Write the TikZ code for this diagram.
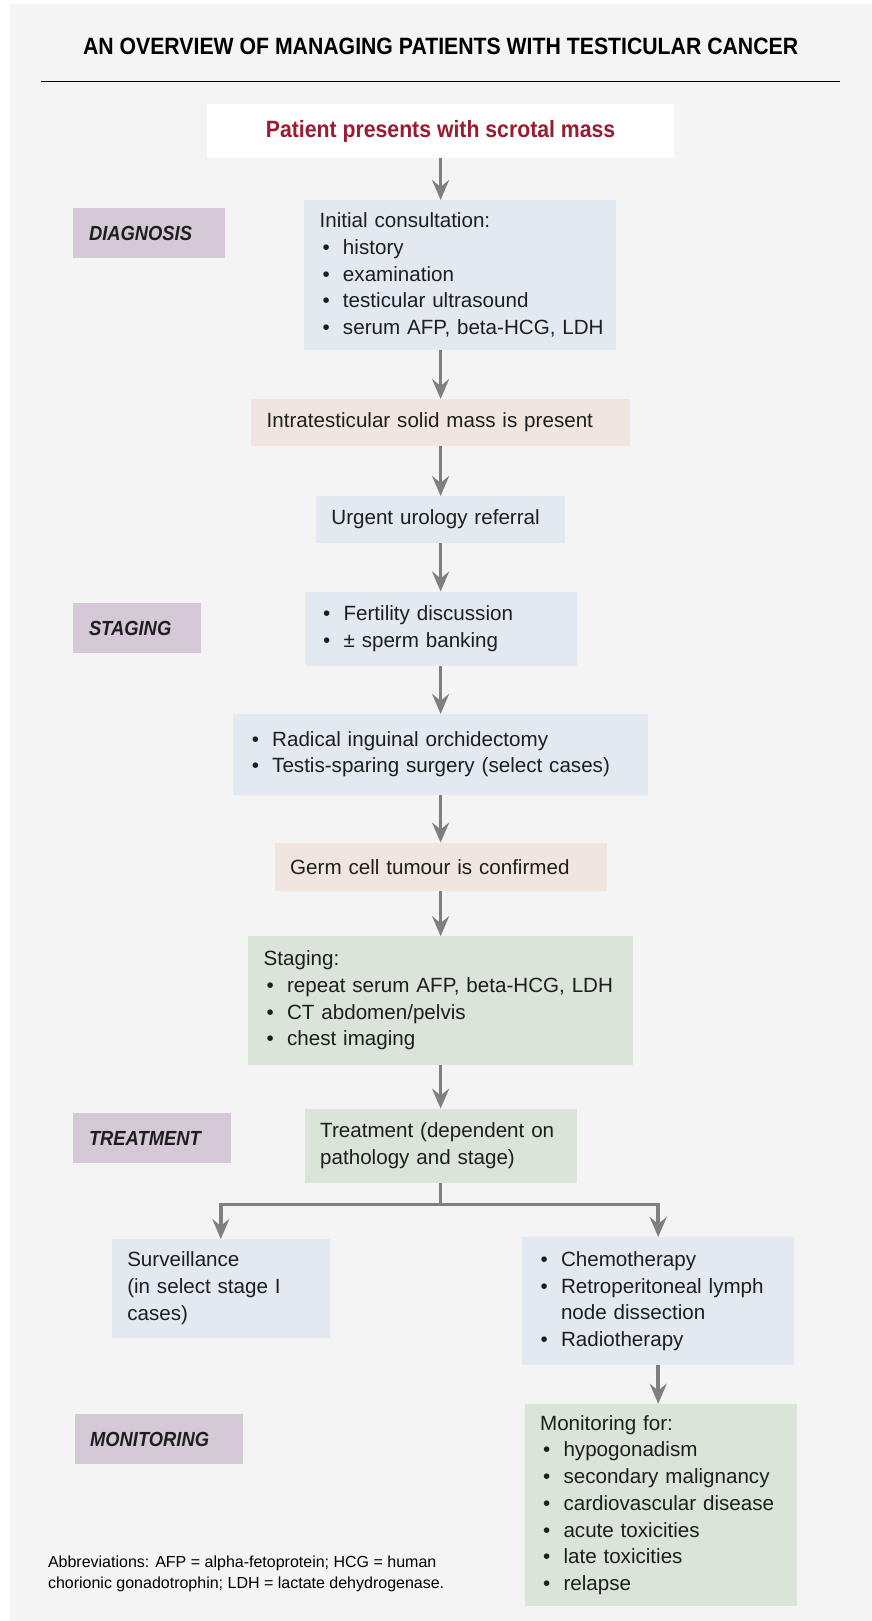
\documentclass[tikz,border=0pt]{standalone}
\usepackage{fontspec}
\setmainfont{Liberation Sans}
\newfontfamily\condfont[FakeStretch=0.9]{Liberation Sans}
\usepackage{tikz}
\usetikzlibrary{arrows.meta,positioning}
\definecolor{OBack}{HTML}{F4F4F4}
\definecolor{OBlue}{HTML}{E3E9F1}
\definecolor{OSand}{HTML}{F0E6DF}
\definecolor{OGreen}{HTML}{DAE4D9}
\definecolor{OMauve}{HTML}{D5C9D7}
\definecolor{ORed}{HTML}{9B1C31}
\definecolor{OGrey}{HTML}{7F7F7F}
\definecolor{OInk}{HTML}{1E1E1E}
\newcommand{\itm}[1]{\mbox{\makebox[11.7pt][l]{\hspace{1.5pt}\textbullet}#1}}

\begin{document}
\begin{tikzpicture}[x=1pt,y=-1pt,
  bx/.style={inner xsep=7.8pt,inner ysep=1pt,outer sep=0pt,align=left,text=OInk,
    font=\fontsize{10.3pt}{13.35pt}\selectfont},
  blu/.style={bx,fill=OBlue,text width=#1},
  sand/.style={bx,fill=OSand,text width=#1},
  grn/.style={bx,fill=OGreen,text width=#1},
  lab/.style={bx,fill=OMauve,text width=#1,minimum height=25pt,anchor=north west,
    font=\condfont\fontsize{10.2pt}{12pt}\selectfont\bfseries\itshape},
  hd/.style={outer sep=0pt,font=\condfont\fontsize{11.8pt}{14pt}\selectfont\bfseries},
  arr/.style={-{Stealth[length=10pt,width=8.5pt,inset=3.5pt]},line width=1.8pt,color=OGrey}
]
  \useasboundingbox (0,0) rectangle (436,810.5);
  \fill[OBack] (5,2) rectangle (436,810.5);
  \node[hd] (title) at (220.3,23.3) {AN OVERVIEW OF MANAGING PATIENTS WITH TESTICULAR CANCER};
  \draw[line width=0.7pt] (20.5,40.8) -- (420,40.8);
  \node[hd,fill=white,minimum width=233.5pt,minimum height=26.8pt,text=ORed] (top) at (220.3,65.6)
    {Patient presents with scrotal mass};
  \node[blu=140.2pt,minimum height=75pt,below=21pt of top,xshift=9.6pt] (consult)
    {Initial consultation:\\\itm{history}\\\itm{examination}\\\itm{testicular ultrasound}\\\itm{serum AFP, beta-HCG, LDH}};
  \node[sand=173.9pt,minimum height=23.5pt,below=24.5pt of consult,xshift=-9.6pt] (intra)
    {Intratesticular solid mass is present};
  \node[blu=109.2pt,minimum height=23.25pt,below=25pt of intra] (urgent) {Urgent urology referral};
  \node[blu=120.4pt,minimum height=37.2pt,below=24.5pt of urgent] (fert)
    {\itm{Fertility discussion}\\\itm{± sperm banking}};
  \node[blu=191.8pt,minimum height=40.35pt,below=24pt of fert] (orch)
    {\itm{Radical inguinal orchidectomy}\\\itm{Testis-sparing surgery (select cases)}};
  \node[sand=150.4pt,minimum height=24.3pt,below=24pt of orch] (germ) {Germ cell tumour is confirmed};
  \node[grn=176.9pt,minimum height=64.2pt,below=22.5pt of germ] (stag)
    {Staging:\\\itm{repeat serum AFP, beta-HCG, LDH}\\\itm{CT abdomen/pelvis}\\\itm{chest imaging}};
  \node[grn=120.4pt,minimum height=37pt,below=22pt of stag] (treat)
    {\mbox{Treatment (dependent on}\\pathology and stage)};
  \coordinate (split) at ([yshift=-11pt]treat.south);
  \node[blu=93.55pt,minimum height=49.25pt,anchor=north] (surv) at (110.4,619.5)
    {Surveillance\\(in select stage I\\cases)};
  \node[blu=120.6pt,minimum height=64.2pt,anchor=north] (chemo) at (329.1,618.5)
    {\itm{Chemotherapy}\\\itm{Retroperitoneal lymph}\\\hspace*{11.7pt}node dissection\\\itm{Radiotherapy}};
  \node[grn=120.4pt,minimum height=101.35pt,below=19.15pt of chemo,xshift=1.15pt] (monit)
    {Monitoring for:\\\itm{hypogonadism}\\\itm{secondary malignancy}\\\itm{cardiovascular disease}\\\itm{acute toxicities}\\\itm{late toxicities}\\\itm{relapse}};
  % phase labels
  \node[lab=60.4pt] (ldiag) at (36.7,104) {DIAGNOSIS};
  \node[lab=48.1pt] (lstag) at (36.7,301.5) {STAGING};
  \node[lab=63.05pt] (ltreat) at (36.7,556.5) {TREATMENT};
  \node[lab=68.65pt] (lmon) at (37.25,707) {MONITORING};
  \node[anchor=west,align=left,inner sep=0pt,font=\fontsize{8pt}{10.35pt}\selectfont] (abbr) at (23.8,786.75)
    {Abbreviations: AFP = alpha-fetoprotein; HCG = human\\chorionic gonadotrophin; LDH = lactate dehydrogenase.};
  % connectors
  \draw[arr] (top.south) -- (top.south |- consult.north);
  \draw[arr] (intra.north |- consult.south) -- (intra.north);
  \foreach \x/\y in {intra/urgent,urgent/fert,fert/orch,orch/germ,germ/stag,stag/treat}
    {\draw[arr] (\x.south) -- (\y.north);}
  \draw[arr] (treat.south) -- (split) -| (surv.north);
  \draw[arr] (split) -| (chemo.north);
  \draw[arr] (chemo.south) -- (chemo.south |- monit.north);
\end{tikzpicture}
\end{document}
